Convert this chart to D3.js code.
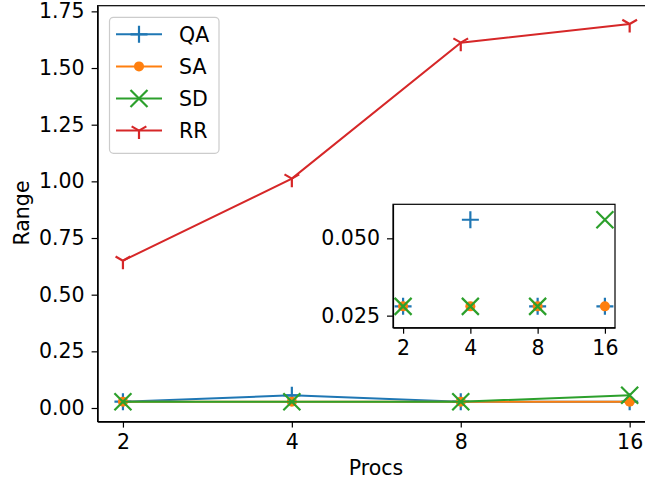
<!DOCTYPE html>
<meta charset="utf-8">
<style>
body { margin: 0; background: #fff; }
text { font-family: "DejaVu Sans", sans-serif; fill: #000; }
.axis path, .axis line { stroke: #000; stroke-width: 1.2px; }
</style>
<body>
<div class="canvas"></div>
<script src="https://cdn.jsdelivr.net/npm/d3@7"></script>
<script>

var procs = [2, 4, 8, 16];
var qa = [0.028, 0.056, 0.028, 0.028];
var sa = [0.028, 0.028, 0.028, 0.028];
var sd = [0.028, 0.028, 0.028, 0.056];
var rr = [0.65, 1.012, 1.612, 1.694];
var yTicks = [0, 0.25, 0.5, 0.75, 1.0, 1.25, 1.5, 1.75];
var insetTicks = [0.025, 0.05];

var series = [
  {name: "QA", values: qa, color: "#1f77b4", marker: "plus"},
  {name: "SA", values: sa, color: "#ff7f0e", marker: "dot"},
  {name: "SD", values: sd, color: "#2ca02c", marker: "x"},
  {name: "RR", values: rr, color: "#d62728", marker: "tri"}
];

var w = 645, h = 482,
    fs = "20.5px";

var svg = d3.select(".canvas").append("svg")
    .attr("width", w)
    .attr("height", h);

// log2 x with matplotlib-ish 5% margins
var m = Math.pow(2, 0.15);
var x = d3.scaleLog().base(2).domain([2 / m, 16 * m]).range([97.6, 655]);
var y = d3.scaleLinear().domain([-0.06, 1.775]).range([421.6, 5.7]);

function marker(g, type, color) {
  var s = 8.5;
  if (type == "dot") {
    g.append("circle").attr("r", 5).style("fill", color);
    return;
  }
  var p;
  if (type == "plus") p = "M" + -s + ",0H" + s + "M0," + -s + "V" + s;
  if (type == "x") p = "M" + -s + "," + -s + "L" + s + "," + s + "M" + -s + "," + s + "L" + s + "," + -s;
  if (type == "tri") p = "M0,0V" + s + "M0,0L" + (s * 0.866) + "," + (-s / 2) + "M0,0L" + (-s * 0.866) + "," + (-s / 2);
  g.append("path").attr("d", p)
    .style("stroke", color).style("stroke-width", 2.2).style("fill", "none");
}

var line = d3.line()
    .x(function(d, i) { return x(procs[i]); })
    .y(function(d) { return y(d); });

var plot = svg.append("g");

series.forEach(function(s) {
  plot.append("path")
    .datum(s.values)
    .attr("d", line)
    .style("fill", "none")
    .style("stroke", s.color)
    .style("stroke-width", 2);
  s.values.forEach(function(v, i) {
    var g = plot.append("g").attr("transform", "translate(" + x(procs[i]) + "," + y(v) + ")");
    marker(g, s.marker, s.color);
  });
});

// axes
svg.append("g").attr("class", "axis")
    .attr("transform", "translate(0," + y.range()[0] + ")")
    .call(d3.axisBottom(x).tickValues(procs).tickFormat(d3.format("d")).tickSizeInner(6).tickSizeOuter(0).tickPadding(7));
svg.append("g").attr("class", "axis")
    .attr("transform", "translate(" + x.range()[0] + ",0)")
    .call(d3.axisLeft(y).tickValues(yTicks).tickFormat(d3.format(".2f")).tickSizeInner(6).tickSizeOuter(0).tickPadding(7));
svg.selectAll(".axis text").style("font-size", fs).style("font-family", "DejaVu Sans");

// top and right spines
svg.append("rect")
    .attr("x", x.range()[0]).attr("y", y.range()[1])
    .attr("width", x.range()[1] - x.range()[0])
    .attr("height", y.range()[0] - y.range()[1])
    .style("fill", "none").style("stroke", "#000").style("stroke-width", 1.2);

svg.append("text")
    .attr("x", 376).attr("y", 475)
    .attr("text-anchor", "middle")
    .style("font-size", fs)
    .text("Procs");

svg.append("text")
    .attr("transform", "translate(29,213) rotate(-90)")
    .attr("text-anchor", "middle")
    .style("font-size", fs)
    .text("Range");

// legend
var leg = svg.append("g");
leg.append("rect")
    .attr("x", 109.5).attr("y", 17.3).attr("width", 109.5).attr("height", 136)
    .attr("rx", 4)
    .style("fill", "#fff").style("fill-opacity", 0.8)
    .style("stroke", "#ccc").style("stroke-width", 1.2);
series.forEach(function(s, i) {
  var ly = 34.3 + i * 32.1;
  leg.append("line")
    .attr("x1", 116).attr("x2", 162).attr("y1", ly).attr("y2", ly)
    .style("stroke", s.color).style("stroke-width", 2);
  var g = leg.append("g").attr("transform", "translate(139," + ly + ")");
  marker(g, s.marker, s.color);
  leg.append("text")
    .attr("x", 179).attr("y", ly).attr("dy", "0.36em")
    .style("font-size", fs)
    .text(s.name);
});

// inset
var ix = d3.scaleLog().base(2).domain([2 / m, 16 * m]).range([393, 615]);
var iy = d3.scaleLinear().domain([0.0211, 0.0610]).range([327.7, 204.3]);

var inset = svg.append("g");
inset.append("rect")
    .attr("x", 393).attr("y", 204.3).attr("width", 222).attr("height", 123.4)
    .style("fill", "#fff");
series.slice(0, 3).forEach(function(s) {
  s.values.forEach(function(v, i) {
    var g = inset.append("g").attr("transform", "translate(" + ix(procs[i]) + "," + iy(v) + ")");
    marker(g, s.marker, s.color);
  });
});
inset.append("g").attr("class", "axis")
    .attr("transform", "translate(0," + iy.range()[0] + ")")
    .call(d3.axisBottom(ix).tickValues(procs).tickFormat(d3.format("d")).tickSizeInner(6).tickSizeOuter(0).tickPadding(7));
inset.append("g").attr("class", "axis")
    .attr("transform", "translate(" + ix.range()[0] + ",0)")
    .call(d3.axisLeft(iy).tickValues(insetTicks).tickFormat(d3.format(".3f")).tickSizeInner(6).tickSizeOuter(0).tickPadding(7));
inset.append("rect")
    .attr("x", 393).attr("y", 204.3).attr("width", 222).attr("height", 123.4)
    .style("fill", "none").style("stroke", "#000").style("stroke-width", 1.2);
inset.selectAll(".axis text").style("font-size", fs).style("font-family", "DejaVu Sans");

</script>
</body>
